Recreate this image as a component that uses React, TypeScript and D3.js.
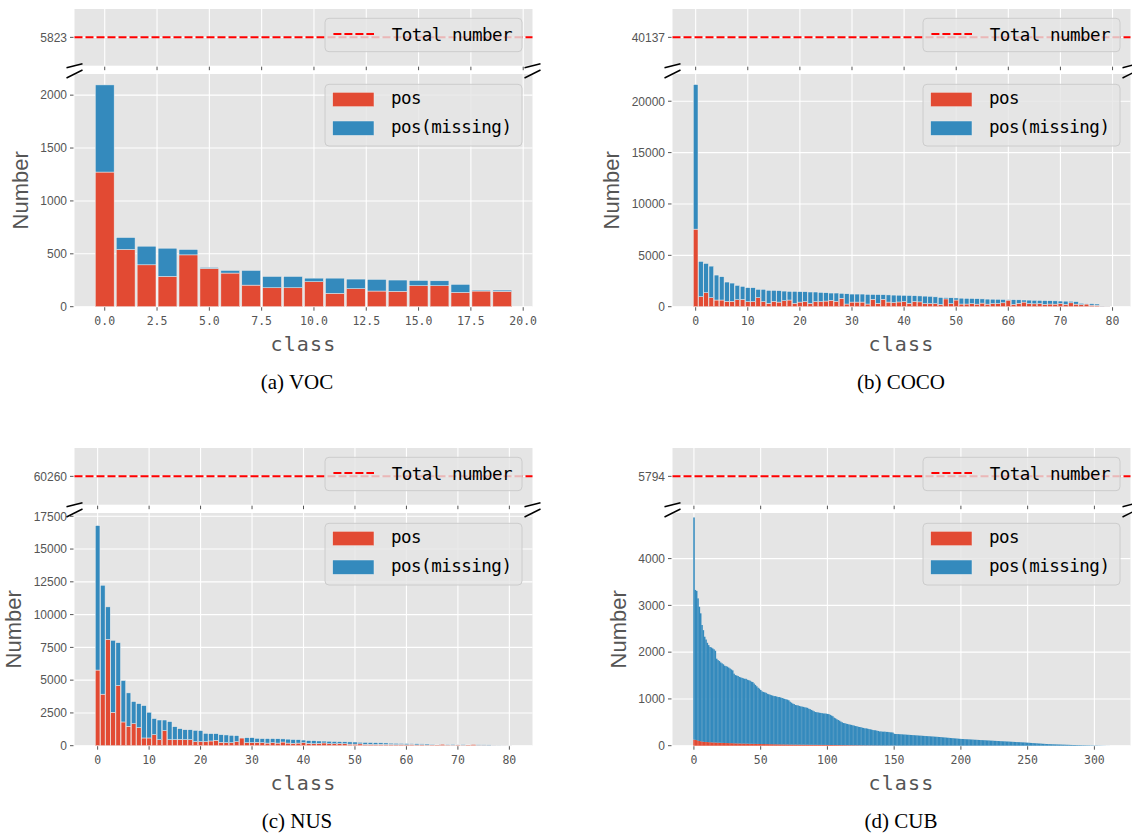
import React from 'react';
import * as d3 from 'd3';

const RED = '#E24A33';
const BLUE = '#348ABD';
const BG = '#E5E5E5';
const INK = '#555555';

// ---- data: VOC (20 classes) ----
const vocPos = [1273, 541, 396, 286, 490, 362, 318, 204, 179, 179, 236, 126, 170, 148, 145, 198, 198, 135, 148, 145];
const vocAll = [2097, 654, 572, 553, 541, 371, 343, 343, 286, 286, 270, 270, 261, 258, 252, 248, 245, 211, 157, 157];

// ---- data: COCO (80 classes) ----
const cocoPos = [
  7550, 970, 1360, 875, 650, 650, 520, 520, 680, 710,
  490, 490, 875, 490, 325, 520, 450, 580, 650, 325,
  450, 490, 325, 490, 490, 550, 620, 520, 810, 260,
  450, 450, 450, 260, 720, 330, 720, 450, 400, 460,
  490, 330, 500, 470, 300, 300, 300, 220, 760, 300,
  650, 260, 260, 300, 250, 350, 250, 300, 300, 380,
  640, 220, 330, 450, 300, 280, 300, 220, 260, 250,
  300, 220, 380, 250, 200, 260, 150, 130, 40, 20,
];
const cocoAll = [
  21620, 4410, 4210, 3950, 3080, 2920, 2400, 2300, 2075, 1980,
  1850, 1850, 1690, 1690, 1590, 1590, 1560, 1520, 1490, 1490,
  1460, 1460, 1430, 1430, 1390, 1360, 1330, 1330, 1300, 1260,
  1230, 1230, 1230, 1200, 1190, 1180, 1170, 1150, 1130, 1120,
  1100, 1090, 1070, 1050, 1030, 1010, 960, 900, 880, 870,
  850, 830, 810, 800, 780, 760, 740, 730, 720, 700,
  690, 680, 670, 650, 640, 620, 610, 590, 580, 570,
  550, 540, 530, 490, 330, 310, 290, 260, 60, 30,
];

// ---- data: NUS (81 classes) ----
const nusPos = [
  5770, 3930, 8110, 2550, 4590, 1810, 1480, 1680, 1380, 590,
  590, 840, 460, 1150, 460, 460, 480, 460, 460, 310,
  310, 310, 360, 410, 260, 230, 230, 310, 590, 230,
  230, 260, 230, 200, 230, 200, 280, 200, 180, 200,
  230, 180, 150, 170, 210, 150, 150, 160, 150, 120,
  120, 140, 100, 110, 90, 110, 90, 100, 80, 100,
  70, 110, 60, 80, 50, 60, 70, 110, 50, 40,
  60, 40, 70, 90, 30, 30, 20, 10, 5, 5, 2,
];
const nusAll = [
  16790, 12240, 10590, 8040, 7860, 4970, 4030, 3370, 3210, 3060,
  2550, 2070, 1960, 1960, 1840, 1450, 1300, 1220, 1220, 1170,
  1150, 940, 920, 920, 840, 820, 790, 770, 610, 610,
  610, 560, 540, 540, 540, 530, 520, 500, 470, 460,
  430, 390, 380, 360, 350, 340, 320, 310, 300, 290,
  280, 260, 250, 240, 230, 220, 210, 190, 180, 170,
  160, 155, 150, 140, 130, 120, 110, 105, 100, 95,
  90, 85, 80, 75, 70, 65, 60, 20, 15, 10, 5,
];

// ---- data: CUB (312 attributes) ----
const cubPos = [
  130, 125, 120, 110, 100, 95, 90, 85, 80, 80,
  78, 75, 75, 72, 70, 70, 68, 66, 65, 64,
  62, 60, 60, 58, 57, 56, 55, 55, 54, 53,
  52, 50, 50, 49, 48, 47, 46, 45, 45, 44,
  43, 42, 42, 41, 40, 40, 39, 38, 38, 37,
  36, 36, 35, 35, 34, 34, 33, 33, 32, 32,
  31, 31, 30, 30, 29, 29, 28, 28, 27, 27,
  26, 26, 25, 25, 25, 24, 24, 24, 23, 23,
  23, 22, 22, 22, 21, 21, 21, 20, 20, 20,
  19, 19, 19, 18, 18, 18, 17, 17, 17, 16,
  16, 16, 15, 15, 15, 14, 14, 14, 13, 13,
  13, 12, 12, 12, 11, 11, 11, 10, 10, 10,
  9, 9, 9, 8, 8, 8, 7, 7, 7, 6,
  6, 6, 5, 5, 5, 5, 4, 4, 4, 4,
  3, 3, 3, 3, 3, 3, 3, 3, 3, 3,
  2, 2, 2, 2, 2, 2, 2, 2, 2, 2,
  2, 2, 2, 2, 2, 2, 2, 2, 2, 2,
  2, 2, 2, 2, 2, 2, 2, 2, 2, 2,
  1, 1, 1, 1, 1, 1, 1, 1, 1, 1,
  1, 1, 1, 1, 1, 1, 1, 1, 1, 1,
  1, 1, 1, 1, 1, 1, 1, 1, 1, 1,
  1, 1, 1, 1, 1, 1, 1, 1, 1, 1,
  1, 1, 1, 1, 1, 1, 1, 1, 1, 1,
  1, 1, 1, 1, 1, 1, 1, 1, 1, 1,
  0, 0, 0, 0, 0, 0, 0, 0, 0, 0,
  0, 0, 0, 0, 0, 0, 0, 0, 0, 0,
  0, 0, 0, 0, 0, 0, 0, 0, 0, 0,
  0, 0, 0, 0, 0, 0, 0, 0, 0, 0,
  0, 0, 0, 0, 0, 0, 0, 0, 0, 0,
  0, 0, 0, 0, 0, 0, 0, 0, 0, 0,
  0, 0, 0, 0, 0, 0, 0, 0, 0, 0,
  0, 0,
];
const cubAll = [
  4880, 3330, 3310, 3150, 2970, 2830, 2580, 2470, 2330, 2270,
  2200, 2150, 2110, 2100, 2080, 2060, 2030, 1860, 1830, 1810,
  1780, 1760, 1740, 1710, 1700, 1690, 1670, 1650, 1630, 1610,
  1540, 1510, 1500, 1490, 1470, 1460, 1450, 1440, 1430, 1430,
  1410, 1400, 1390, 1370, 1360, 1330, 1300, 1270, 1240, 1220,
  1190, 1160, 1150, 1140, 1130, 1110, 1100, 1090, 1080, 1070,
  1060, 1060, 1050, 1040, 1040, 1030, 1020, 1010, 1000, 990,
  985, 970, 940, 920, 900, 890, 870, 865, 860, 850,
  840, 835, 830, 820, 815, 810, 790, 780, 765, 750,
  735, 720, 715, 710, 705, 700, 695, 690, 688, 685,
  680, 675, 660, 645, 630, 600, 585, 565, 550, 535,
  515, 500, 485, 480, 470, 465, 455, 450, 445, 435,
  430, 420, 415, 405, 400, 395, 385, 380, 370, 370,
  365, 355, 350, 345, 335, 330, 330, 320, 315, 305,
  305, 300, 300, 300, 295, 295, 290, 285, 285, 280,
  255, 250, 250, 248, 246, 244, 242, 240, 238, 236,
  234, 232, 230, 228, 226, 224, 222, 220, 218, 216,
  214, 212, 210, 208, 206, 204, 202, 200, 198, 196,
  194, 192, 190, 188, 186, 184, 180, 178, 175, 173,
  170, 168, 165, 162, 160, 157, 155, 152, 150, 147,
  145, 143, 142, 140, 138, 137, 135, 134, 132, 130,
  128, 127, 125, 124, 122, 120, 119, 117, 116, 114,
  112, 111, 109, 108, 106, 104, 103, 101, 100, 98,
  96, 95, 93, 92, 90, 89, 87, 86, 84, 82,
  81, 79, 78, 76, 75, 73, 71, 70, 68, 66,
  64, 62, 60, 58, 56, 54, 52, 50, 48, 46,
  44, 42, 40, 38, 36, 35, 34, 32, 31, 30,
  29, 28, 27, 26, 25, 24, 23, 22, 21, 20,
  19, 18, 17, 16, 15, 15, 14, 13, 12, 12,
  11, 10, 10, 9, 9, 8, 8, 7, 7, 6,
  6, 5, 5, 4, 4, 3, 3, 2, 2, 1,
  1, 1,
];

const posSeries = [vocPos, cocoPos, nusPos, cubPos];
const allSeries = [vocAll, cocoAll, nusAll, cubAll];
const captions = ['(a) VOC', '(b) COCO', '(c) NUS', '(d) CUB'];
const totalNumbers = [5823, 40137, 60260, 5794];
const yTickSets = [
  [0, 500, 1000, 1500, 2000],
  [0, 5000, 10000, 15000, 20000],
  [0, 2500, 5000, 7500, 10000, 12500, 15000, 17500],
  [0, 1000, 2000, 3000, 4000],
];
const xTickSets = [
  [0, 2.5, 5, 7.5, 10, 12.5, 15, 17.5, 20],
  [0, 10, 20, 30, 40, 50, 60, 70, 80],
  [0, 10, 20, 30, 40, 50, 60, 70, 80],
  [0, 50, 100, 150, 200, 250, 300],
];
const xTickFormats = ['.1f', 'd', 'd', 'd'];
const yMaxes = [2200, 22650, 17750, 4975];

// layout
const COL_X = [74.5, 672.5];
const ROW_Y = [9, 448];
const CAPTION_X = [297, 901];
const AX_W = 458;
const TOP_H = 56.7;
const GAP = 8.3;
const LOW_H = 232.7;
const BAR_W = 0.9;

const MONO = '"DejaVu Sans Mono", monospace';
const SANS = '"Liberation Sans", Arial, sans-serif';

type PanelProps = { idx: number };

const Panel = ({ idx }: PanelProps) => {
  const pos = posSeries[idx];
  const all = allSeries[idx];
  const col = idx % 2;
  const row = Math.floor(idx / 2);
  const x0 = COL_X[col];
  const x1 = x0 + AX_W;
  const yT0 = ROW_Y[row];
  const yT1 = yT0 + TOP_H;
  const yL0 = yT1 + GAP;
  const yL1 = yL0 + LOW_H;

  const n = all.length;
  const pad = 0.05 * (n - 1 + BAR_W);
  const x = d3.scaleLinear().domain([-BAR_W / 2 - pad, n - 1 + BAR_W / 2 + pad]).range([x0, x1]);
  const y = d3.scaleLinear().domain([0, yMaxes[idx]]).range([yL1, yL0]);
  const total = totalNumbers[idx];
  const yTop = d3.scaleLinear().domain([total - 1, total + 1]).range([yT1, yT0]);

  // very narrow bars (CUB) render as a solid band, as the raster original does
  const narrow = x(1) - x(0) < 2;
  const barPx = narrow ? x(1) - x(0) + 0.2 : x(BAR_W) - x(0);
  const barX = (i: number) => (narrow ? x(i - 0.5) : x(i - BAR_W / 2));
  const edgeW = narrow ? 0 : 0.5;

  const xTicks = xTickSets[idx];
  const yTicks = yTickSets[idx];
  const fmtX = d3.format(xTickFormats[idx]);
  const longest = d3.max(yTicks, (t) => String(t).length) || 4;
  const ylabelX = x0 - (27 + 6.9 * longest);

  // legend boxes
  const legL = x1 - 207.5;
  const legW = 197;
  const legTopY = yT0 + 9.3;
  const legLowY = yL0 + 10.3;

  const breakMarks = [x0, x1].map((bx, k) => (
    <g key={k} stroke="#000" strokeWidth={1.4}>
      <line x1={bx - 8} y1={yT1 + 2} x2={bx + 8} y2={yT1 - 2} />
      <line x1={bx - 8} y1={yL0 + 4} x2={bx + 8} y2={yL0 - 4} />
    </g>
  ));

  return (
    <g>
      {/* backgrounds */}
      <rect x={x0} y={yT0} width={AX_W} height={TOP_H} fill={BG} />
      <rect x={x0} y={yL0} width={AX_W} height={LOW_H} fill={BG} />

      {/* grid */}
      <g stroke="#fff" strokeWidth={1.1}>
        {xTicks.map((t) => (
          <g key={t}>
            <line x1={x(t)} x2={x(t)} y1={yT0} y2={yT1} />
            <line x1={x(t)} x2={x(t)} y1={yL0} y2={yL1} />
          </g>
        ))}
        {yTicks.map((t) => (
          <line key={t} x1={x0} x2={x1} y1={y(t)} y2={y(t)} />
        ))}
        <line x1={x0} x2={x1} y1={yTop(total)} y2={yTop(total)} />
      </g>

      {/* bars */}
      <g stroke="#EEEEEE" strokeWidth={edgeW}>
        {pos.map((v, i) => (
          <rect key={'r' + i} x={barX(i)} width={barPx}
            y={y(v)} height={y(0) - y(v)} fill={RED} />
        ))}
        {all.map((v, i) => (
          <rect key={'b' + i} x={barX(i)} width={barPx}
            y={y(v)} height={Math.max(0, y(pos[i]) - y(v))} fill={BLUE} />
        ))}
      </g>

      {/* total number line */}
      <line x1={x0} x2={x1} y1={yTop(total)} y2={yTop(total)} stroke="#FF0000" strokeWidth={2} strokeDasharray="8,3" />

      {/* ticks */}
      <g stroke={INK} strokeWidth={1}>
        {xTicks.map((t) => (
          <g key={t}>
            <line x1={x(t)} x2={x(t)} y1={yT1 + 1} y2={yT1 + 4.5} />
            <line x1={x(t)} x2={x(t)} y1={yL1 + 0.5} y2={yL1 + 4} />
          </g>
        ))}
        {yTicks.map((t) => (
          <line key={t} x1={x0 - 1} x2={x0 - 4.5} y1={y(t)} y2={y(t)} />
        ))}
        <line x1={x0 - 1} x2={x0 - 4.5} y1={yTop(total)} y2={yTop(total)} />
      </g>

      {/* tick labels */}
      <g fill={INK} fontFamily={SANS} fontSize={12} textAnchor="end">
        {yTicks.map((t) => (
          <text key={t} x={x0 - 7.5} y={y(t)} dy="0.36em">{t}</text>
        ))}
        <text x={x0 - 7.5} y={yTop(total)} dy="0.36em">{total}</text>
      </g>
      <g fill={INK} fontFamily={MONO} fontSize={11.5} textAnchor="middle">
        {xTicks.map((t) => (
          <text key={t} x={x(t)} y={yL1 + 18.2}>{fmtX(t)}</text>
        ))}
      </g>

      {/* axis labels */}
      <text x={(x0 + x1) / 2} y={yL1 + 44} textAnchor="middle" fontFamily={MONO} fontSize={20}
        letterSpacing={1.2} fill={INK}>class</text>
      <text transform={`translate(${ylabelX},${(yL0 + yL1) / 2}) rotate(-90)`} textAnchor="middle"
        dy="0.36em" fontFamily={SANS} fontSize={22} fill={INK}>Number</text>

      {/* legends */}
      <rect x={legL} y={legTopY} width={legW} height={33.4} rx={4} fill={BG} fillOpacity={0.8} stroke="#CCCCCC" />
      <line x1={legL + 8.4} x2={legL + 49} y1={legTopY + 15.7} y2={legTopY + 15.7}
        stroke="#FF0000" strokeWidth={2} strokeDasharray="8,3" />
      <text x={legL + 66.7} y={legTopY + 22.7} fontFamily={MONO} fontSize={17.5} letterSpacing={-0.5} fill="#000">Total number</text>

      <rect x={legL} y={legLowY} width={legW} height={61.7} rx={4} fill={BG} fillOpacity={0.8} stroke="#CCCCCC" />
      <rect x={legL + 7.7} y={legLowY + 8} width={41.3} height={14.4} fill={RED} stroke="#EEEEEE" strokeWidth={0.5} />
      <rect x={legL + 7.7} y={legLowY + 36.7} width={41.3} height={14.4} fill={BLUE} stroke="#EEEEEE" strokeWidth={0.5} />
      <text x={legL + 66} y={legLowY + 19.7} fontFamily={MONO} fontSize={17.5} letterSpacing={-0.5} fill="#000">pos</text>
      <text x={legL + 66} y={legLowY + 48.4} fontFamily={MONO} fontSize={17.5} letterSpacing={-0.5} fill="#000">pos(missing)</text>

      {breakMarks}

      {/* caption */}
      <text x={CAPTION_X[col]} y={yL1 + 82.5} textAnchor="middle" fontFamily='"Liberation Serif", "Times New Roman", serif'
        fontSize={21} fill="#000">{captions[idx]}</text>
    </g>
  );
};

export default function App() {
  return (
    <svg width={1132} height={835} style={{ position: 'absolute', left: 0, top: 0, background: '#fff' }}>
      {[0, 1, 2, 3].map((i) => (
        <Panel key={i} idx={i} />
      ))}
    </svg>
  );
}
